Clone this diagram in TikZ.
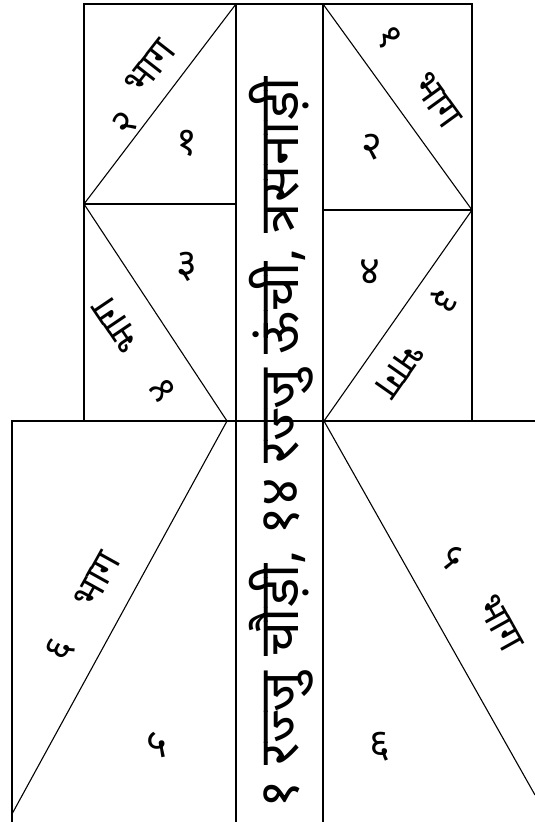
\documentclass[tikz,border=0pt]{standalone}
\usepackage{fontspec}
\newfontfamily\dev[Script=Devanagari]{Noto Sans}
\begin{document}
\begin{tikzpicture}[x=1pt,y=-1pt,
  frame/.style={line width=1.4pt, line cap=rect},
  diag/.style={line width=1.1pt},
  lbl/.style={font=\dev\fontsize{38}{38}\selectfont, inner sep=0pt},
  num/.style={font=\dev\fontsize{40}{40}\selectfont, inner sep=0pt},
  maintext/.style={font=\dev\bfseries\fontsize{55}{55}\selectfont, inner sep=0pt, rotate=90}]
\useasboundingbox (0,0) rectangle (535,822);
% upper block
\coordinate (A) at (84,4);
\coordinate (B) at (236,4);
\coordinate (C) at (323,4);
\coordinate (D) at (472,4);
\coordinate (E) at (84,204);
\coordinate (F) at (236,204);
\coordinate (G) at (323,210);
\coordinate (H) at (472,210);
\coordinate (I) at (84,421);
\coordinate (L) at (472,421);
% lower block
\coordinate (M) at (12,421);
\coordinate (N) at (535,421);
\coordinate (O) at (12,822);
\coordinate (P) at (236,822);
\coordinate (Q) at (323,822);
\coordinate (LM) at (227,421);
\coordinate (RM) at (324,421);
\coordinate (LE) at (12,814);
\coordinate (RE) at (535,795);
% frame
\draw[frame] (A) -- (D);
\draw[frame] (A) -- (I);
\draw[frame] (D) -- (L);
\draw[frame] (B) -- (P);
\draw[frame] (C) -- (Q);
\draw[frame] (E) -- (F);
\draw[frame] (G) -- (H);
\draw[frame] (M) -- (N);
\draw[frame] (M) -- (O);
% diagonals
\draw[diag] (E) -- (B);
\draw[diag] (C) -- (H);
\draw[diag] (E) -- (LM);
\draw[diag] (H) -- (RM);
\draw[diag] (LM) -- (LE);
\draw[diag] (RM) -- (RE);
% outer labels
\node[lbl, rotate=52] (tl1) at (125,123) {२};
\node[lbl, rotate=52] (tl2) at (150,67) {भाग};
\node[lbl, rotate=-54] (tr1) at (389,38) {१};
\node[lbl, rotate=-54] (tr2) at (437,100) {भाग};
\node[lbl, rotate=124] (ml1) at (163,390) {४};
\node[lbl, rotate=124] (ml2) at (117,325) {भाग};
\node[lbl, rotate=-125] (mr1) at (443,300) {३};
\node[lbl, rotate=-125] (mr2) at (400,370) {भाग};
\node[lbl, rotate=61] (bl1) at (60,650) {६};
\node[lbl, rotate=61] (bl2) at (97,580) {भाग};
\node[lbl, rotate=-61] (br1) at (453,557) {५};
\node[lbl, rotate=-61] (br2) at (500,623) {भाग};
% inner numbers
\node[num] (n1) at (187,143) {१};
\node[num] (n2) at (372,147) {२};
\node[num] (n3) at (187,267) {३};
\node[num] (n4) at (370,272) {४};
\node[num] (n5) at (157,745) {५};
\node[num] (n6) at (380,747) {६};
% central strip text
\node[maintext] (strip) at (281,443) {१ रज्जु चौड़ी, १४ रज्जु ऊंची, त्रसनाड़ी};
\end{tikzpicture}
\end{document}
